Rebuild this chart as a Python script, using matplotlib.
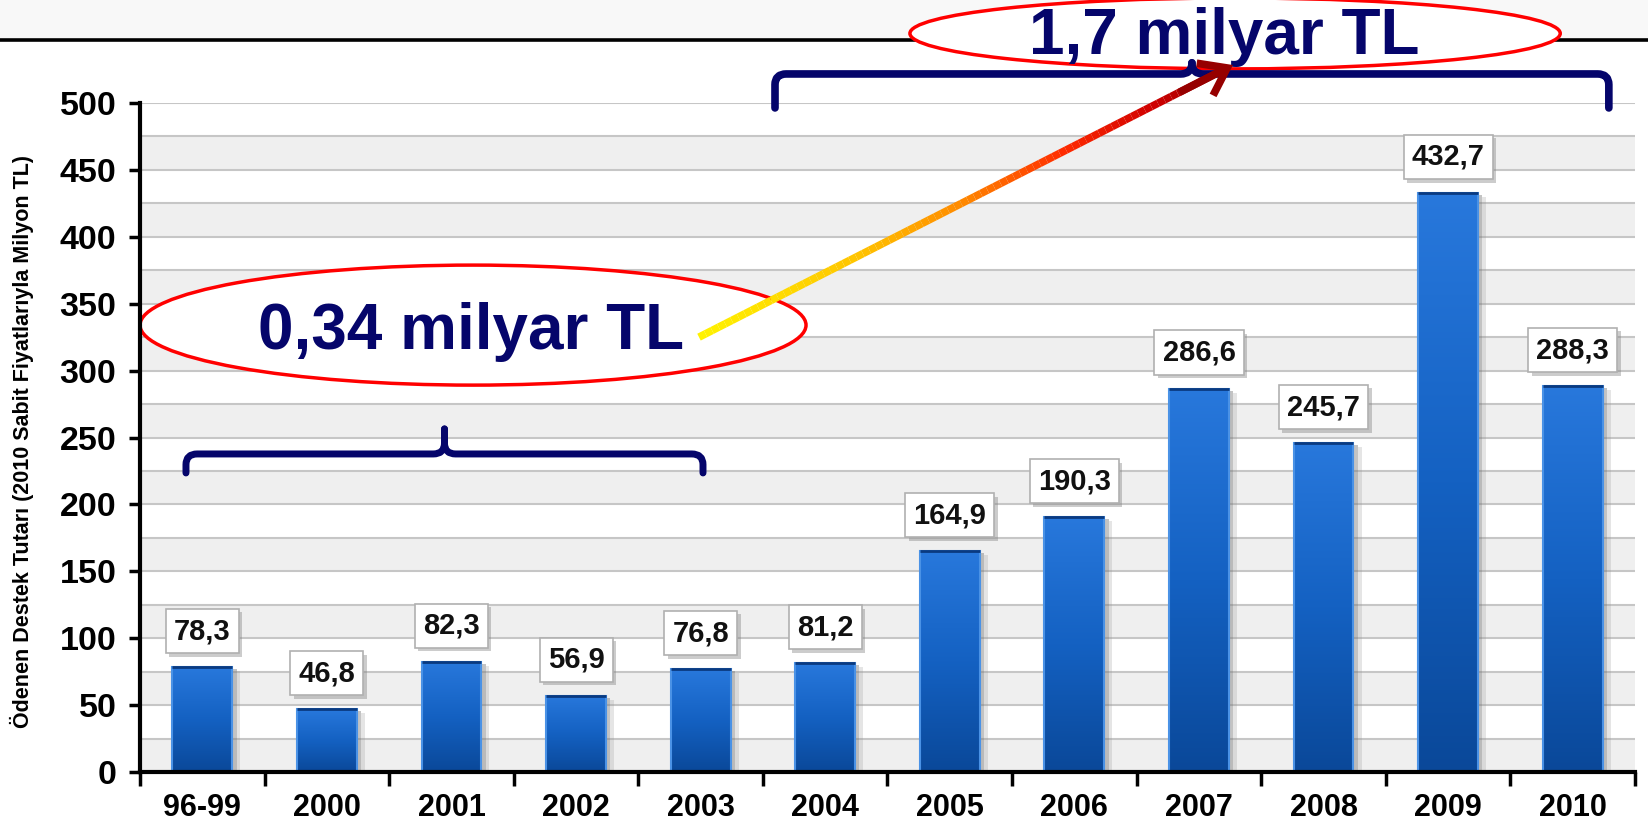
import numpy as np
import matplotlib
matplotlib.use('Agg')
import matplotlib.pyplot as plt
from matplotlib import font_manager, patheffects
from matplotlib.patches import Ellipse, PathPatch, FancyArrowPatch, Rectangle
from matplotlib.lines import Line2D
from matplotlib.path import Path
from matplotlib.collections import LineCollection
from matplotlib.colors import LinearSegmentedColormap

years = ['96-99', '2000', '2001', '2002', '2003', '2004', '2005', '2006', '2007', '2008', '2009', '2010']
support = [78.3, 46.8, 82.3, 56.9, 76.8, 81.2, 164.9, 190.3, 286.6, 245.7, 432.7, 288.3]
value_labels = ['78,3', '46,8', '82,3', '56,9', '76,8', '81,2', '164,9', '190,3', '286,6', '245,7', '432,7', '288,3']
y_ticks = list(range(0, 501, 50))
early_total = '0,34 milyar TL'
late_total = '1,7 milyar TL'
y_title = 'Ödenen Destek Tutarı (2010 Sabit Fiyatlarıyla Milyon TL)'

plt.rcParams['font.family'] = ['Liberation Sans', 'DejaVu Sans']
installed = {f.name for f in font_manager.fontManager.ttflist}
narrow = 'Liberation Sans Narrow' in installed

navy = '#05056b'

fig = plt.figure(figsize=(16.49, 8.26), dpi=100)
ax = fig.add_axes([140 / 1649, 54 / 826, 1495 / 1649, 669 / 826])

x = np.arange(len(years))

# alternating grey bands, grid every 25
for lo in range(0, 500, 50):
    ax.axhspan(lo, lo + 25, color='#efefef', lw=0, zorder=0)
ax.set_yticks(y_ticks)
ax.set_yticks(np.arange(25, 500, 50), minor=True)
ax.grid(axis='y', which='both', color='#c6c6c6', lw=1.5)
ax.set_axisbelow(True)

# bars with vertical gradient
bar_cmap = LinearSegmentedColormap.from_list('bar', ['#0a4899', '#1461c2', '#2878dc'])
grad = np.linspace(0, 1, 256).reshape(-1, 1)
bars = ax.bar(x, support, width=0.48, color='none', edgecolor='#4a92e6', lw=1.5, zorder=3)
for b in bars:
    x0, w, h = b.get_x(), b.get_width(), b.get_height()
    ax.add_patch(Rectangle((x0 + w, 0), 0.035, h - 1.5, color='#7a7a7a', alpha=0.45, lw=0, zorder=2))
    ax.add_patch(Rectangle((x0 + w + 0.035, 0), 0.03, h - 3, color='#9a9a9a', alpha=0.25, lw=0, zorder=2))
    im = ax.imshow(grad, extent=(x0, x0 + w, 0, h), origin='lower', cmap=bar_cmap,
                   aspect='auto', zorder=2.5)
    im.set_clip_path(b)
    ax.plot([x0, x0 + w], [h, h], color='#0a3a80', lw=2, zorder=3.5, solid_capstyle='butt')

for xi, v, s in zip(x, support, value_labels):
    t = ax.annotate(s, (xi, v), xytext=(0, 26), textcoords='offset points', ha='center', va='center',
                    fontsize=21, fontweight='bold', color='#111111', zorder=4,
                    bbox=dict(boxstyle='square,pad=0.28', fc='white', ec='#b0b0b0', lw=1.2))
    t.get_bbox_patch().set_path_effects([patheffects.withSimplePatchShadow(
        offset=(2.5, -2.5), shadow_rgbFace='#808080', alpha=0.4)])

# axes, ticks
ax.set_xticks(np.arange(len(years) + 1) - 0.5)
ax.set_xticklabels([])
ax.set_xticks(x, minor=True)
ax.set_xticklabels(years, minor=True, fontsize=22, fontweight='bold')
ax.tick_params(axis='x', which='major', length=10, width=2.5, direction='out')
ax.tick_params(axis='x', which='minor', length=0, pad=15)
ax.tick_params(axis='y', which='major', length=8, width=2.5, pad=9, labelsize=24.5)
ax.tick_params(axis='y', which='minor', length=0)
for lab in ax.get_yticklabels():
    lab.set_fontweight('bold')
for side in ['top', 'right']:
    ax.spines[side].set_visible(False)
for side in ['left', 'bottom']:
    ax.spines[side].set_linewidth(3)
    ax.spines[side].set_zorder(6)

if narrow:
    fig.text(23 / 1649, 1 - 441 / 826, y_title, rotation=90, ha='center', va='center',
             fontsize=15.5, fontweight='bold', family=['Liberation Sans Narrow', 'DejaVu Sans'])
else:
    fig.text(22 / 1649, 1 - 441 / 826, y_title, rotation=90, ha='center', va='center',
             fontsize=15.5, fontweight='bold')

# slide header band and rule
ax.add_patch(Rectangle((0, 1 - 38 / 826), 1, 38 / 826, transform=fig.transFigure,
                       color='#f8f8f8', lw=0, zorder=0, clip_on=False))
ax.add_line(Line2D([0, 1], [1 - 39.5 / 826] * 2, transform=fig.transFigure,
                   color='black', lw=2.6, zorder=1, clip_on=False))


def bracket(xl, xr, yh, ye, yt, lw):
    xc = (xl + xr) / 2
    rx, ry = 0.09, 8
    for a, s in [(xl, 1), (xr, -1)]:
        verts = [(a, ye), (a, yh - ry), (a, yh), (a + s * rx, yh), (xc - s * rx, yh),
                 (xc, yh), (xc, yh + ry), (xc, yt)]
        codes = [Path.MOVETO, Path.LINETO, Path.CURVE3, Path.CURVE3, Path.LINETO,
                 Path.CURVE3, Path.CURVE3, Path.LINETO]
        ax.add_patch(PathPatch(Path(verts, codes), fc='none', ec=navy, lw=lw,
                               capstyle='round', joinstyle='round', zorder=5, clip_on=False))


bracket(-0.131, 4.019, 237.7, 223.5, 256.4, 5)
bracket(4.597, 11.29, 521.7, 496.3, 530, 5.5)

# callout ellipses
ax.add_patch(Ellipse((2.173, 334), 5.346, 89.7, fc='white', ec='#ff0000', lw=2.5, zorder=5, clip_on=False))
ax.text(2.157, 316, early_total, ha='center', va='baseline', fontsize=46, fontweight='bold',
        color=navy, zorder=6)
ax.add_patch(Ellipse((8.29, 552), 5.22, 53, fc='white', ec='#ff0000', lw=2.5, zorder=4.5, clip_on=False))
ax.text(8.205, 536.6, late_total, ha='center', va='baseline', fontsize=46, fontweight='bold',
        color=navy, zorder=6, clip_on=False)

# gradient arrow from 0,34 to 1,7
arrow_cmap = LinearSegmentedColormap.from_list(
    'arr', [(0, '#fff200'), (0.3, '#ffc400'), (0.5, '#ff8a00'), (0.7, '#ff2a00'),
            (0.87, '#d00000'), (1, '#920000')])
p0 = np.array([3.987, 325.0])
tip = np.array([8.273, 528.4])
tt = np.linspace(0, 0.97, 80)
pts = p0 + np.outer(tt, tip - p0)
segs = np.stack([pts[:-1], pts[1:]], axis=1)
ax.add_collection(LineCollection(segs, colors=arrow_cmap(tt[:-1] / 0.97), linewidths=5.5,
                                 capstyle='butt', zorder=8, clip_on=False))
head_start = p0 + 0.9 * (tip - p0)
ax.add_patch(FancyArrowPatch(tuple(head_start), tuple(tip), arrowstyle='->,head_length=18,head_width=13',
                             color='#960000', lw=5.5, shrinkA=0, shrinkB=0, zorder=8.5, clip_on=False,
                             capstyle='butt', joinstyle='miter'))

ax.set_xlim(-0.5, len(years) - 0.5)
ax.set_ylim(0, 500)

fig.savefig('out.png', dpi=100, facecolor='white')
